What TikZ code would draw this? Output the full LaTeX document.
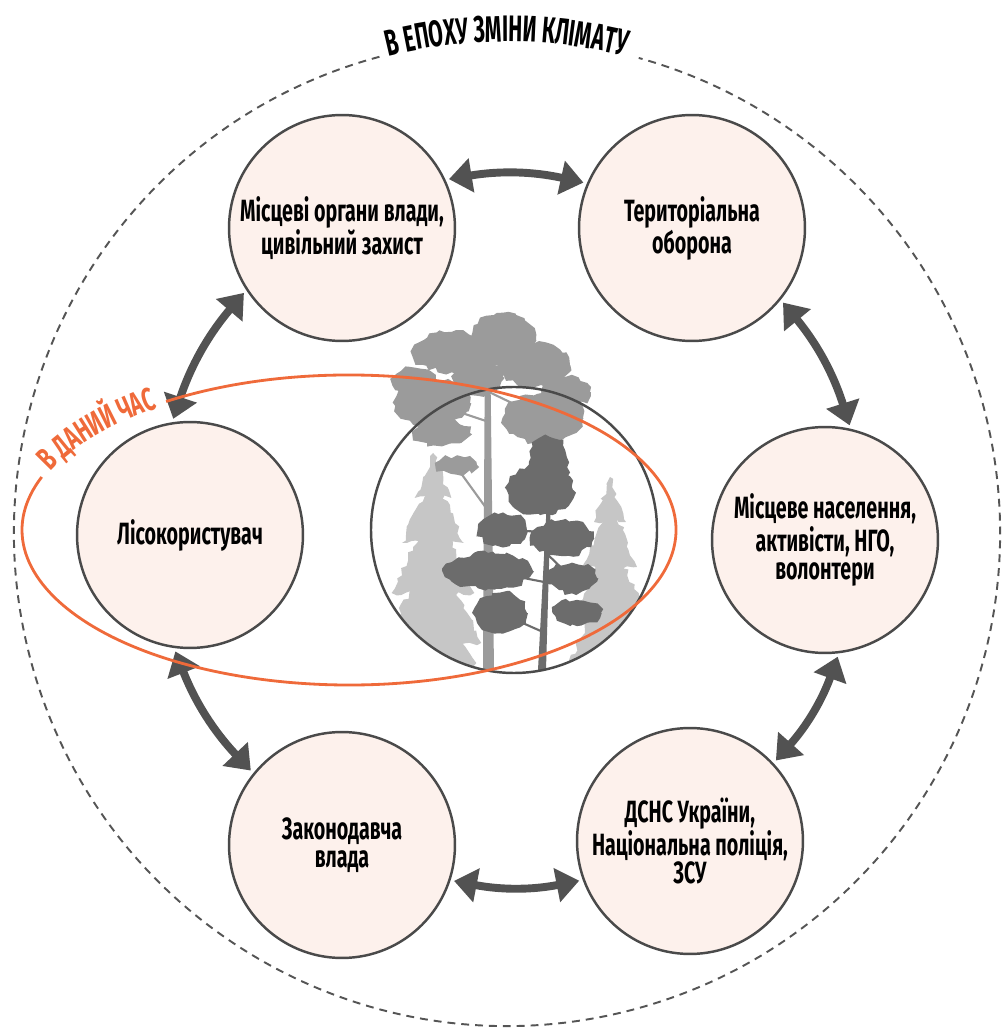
\documentclass[tikz,border=0pt]{standalone}
\usepackage{fontspec}
\newfontfamily\condfont{Fira Sans}[FakeStretch=0.64]
\newfontfamily\titlefont{Fira Sans}[FakeStretch=0.57]
\usetikzlibrary{arrows.meta,decorations.text,decorations.pathmorphing}

\definecolor{nodefill}{HTML}{FDF1EC}
\definecolor{rimgray}{HTML}{4A4A4A}
\definecolor{arrowgray}{HTML}{525252}
\definecolor{dashgray}{HTML}{555555}
\definecolor{nowred}{HTML}{EF6A3A}
\definecolor{firgray}{HTML}{C6C6C6}
\definecolor{pinegray}{HTML}{9B9B9B}
\definecolor{darkpine}{HTML}{6C6C6C}

\tikzset{
  actor/.style={circle, draw=rimgray, line width=1.4pt, fill=nodefill,
    minimum size=4.52cm, inner sep=0pt, align=center,
    font=\condfont\bfseries\fontsize{17.5}{16}\selectfont},
  link/.style={draw=arrowgray, line width=4.5pt, line join=round,
    {Triangle[length=13pt,width=19pt]}-{Triangle[length=13pt,width=19pt]},
    shorten <=2pt, shorten >=2pt},
  leaves/.style={decorate, decoration={random steps, segment length=3pt, amplitude=1.5pt}},
}

\begin{document}
\begin{tikzpicture}[x=0.02cm, y=0.02cm]
\useasboundingbox (0,0) rectangle (1002,1032);
\coordinate (bigc) at (507,499);
\coordinate (eo) at (349,502);
\coordinate (forest) at (514,502);

% climate circle and its title
\draw[dashgray, line width=1.1pt, dash pattern=on 4.5pt off 3.4pt]
  ([shift={(105:493)}]bigc) arc[start angle=105, end angle=434.5, radius=493];
\path[decorate, decoration={text along path, text align=center, raise=-1pt,
  text={|\titlefont\bfseries\fontsize{21}{21}\selectfont|В ЕПОХУ ЗМІНИ КЛІМАТУ}}]
  ([shift={(106:493)}]bigc) arc[start angle=106, end angle=74, radius=493];

% forest in the middle
\begin{scope}
  \clip (forest) circle[radius=143];
  \foreach \fx/\ft/\s in {433/579/1.15, 610/555/1.0}{
    \fill[firgray] (\fx-3,350) rectangle (\fx+3,\ft-40);
    \foreach \t/\b/\w in {0/45/16, 20/90/27, 50/140/36, 90/190/42, 130/230/44}
      \fill[firgray, leaves] (\fx,\ft-\t) -- (\fx+\s*\w,\ft-\b) -- (\fx-\s*\w,\ft-\b) -- cycle;
  }
  \fill[pinegray] (483,362) -- (494,362) -- (490,700) -- (485,700) -- cycle;
  \fill[darkpine] (538,362) -- (546,362) -- (552,570) -- (549,570) -- cycle;
\end{scope}
\draw[pinegray, line width=1.2pt] (489,520) -- (455,567) (489,610) -- (432,629) (489,640) -- (543,614) (488,665) -- (535,667);
\foreach \cx/\cy/\rx/\ry in {503/692/33/27, 452/680/40/20, 535/667/35/22, 432/629/38/23,
    543/614/40/25, 442/599/28/13, 457/567/20/9, 478/655/25/18, 566/640/24/15, 414/652/22/12}
  \fill[pinegray, leaves] (\cx,\cy) ellipse[x radius=\rx, y radius=\ry];
\draw[darkpine, line width=1.2pt] (543,400) -- (500,419) (544,450) -- (488,461) (545,480) -- (572,454) (546,500) -- (503,502);
\foreach \cx/\cy/\rx/\ry in {549/570/20/25, 540/542/33/25, 503/502/24/17, 562/494/32/18,
    488/461/45/18, 572/454/25/15, 500/419/27/20, 577/419/24/13}
  \fill[darkpine, leaves] (\cx,\cy) ellipse[x radius=\rx, y radius=\ry];
\draw[rimgray, line width=1.4pt] (forest) circle[radius=143];

% actors
\node[actor] (local) at (342,804) {Місцеві органи влади,\\цивільний захист};
\node[actor] (terr) at (692,804) {Територіальна\\оборона};
\node[actor] (people) at (825,492) {Місцеве населення,\\активісти, НГО,\\волонтери};
\node[actor] (rescue) at (690,191) {ДСНС України,\\Національна поліція,\\ЗСУ};
\node[actor] (law) at (342,187) {Законодавча\\влада};
\node[actor] (user) at (190,497) {Лісокористувач};

\draw[link] (local.25) to[bend left=11] (terr.157);
\draw[link] (terr.-39) to[bend left=11] (people.77);
\draw[link] (people.-83) to[bend left=11] (rescue.43);
\draw[link] (rescue.200) to[bend left=11] (law.-18);
\draw[link] (law.141) to[bend left=11] (user.-98);
\draw[link] (user.99) to[bend left=11] (local.-147);

% present time
\draw[nowred, line width=1.6pt]
  ([shift={(124:327 and 155)}]eo) arc[start angle=124, end angle=-200, x radius=327, y radius=155];
\path[decorate, decoration={text along path, text align=center, raise=-2pt,
  text={|\condfont\bfseries\fontsize{18.5}{18.5}\selectfont\color{nowred}|В ДАНИЙ ЧАС}}]
  ([shift={(160:327 and 155)}]eo) arc[start angle=160, end angle=124, x radius=327, y radius=155];
\end{tikzpicture}
\end{document}
